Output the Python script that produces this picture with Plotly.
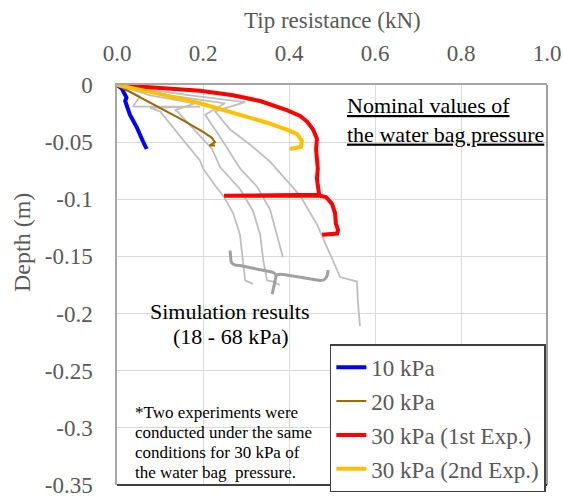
import plotly.graph_objects as go

# ---------------- data ----------------
x_ticks = [0.0, 0.2, 0.4, 0.6, 0.8, 1.0]
x_tick_labels = ["0.0", "0.2", "0.4", "0.6", "0.8", "1.0"]
y_ticks = [0, -0.05, -0.1, -0.15, -0.2, -0.25, -0.3, -0.35]
y_tick_labels = ["0", "-0.05", "-0.1", "-0.15", "-0.2", "-0.25", "-0.3", "-0.35"]

# 10 kPa
kpa10_x = [0, 0.011, 0.022, 0.019, 0.030, 0.046, 0.060, 0.069]
kpa10_y = [0, -0.003, -0.011, -0.014, -0.026, -0.037, -0.049, -0.056]

# 20 kPa
kpa20_x = [0, 0.050, 0.100, 0.150, 0.200, 0.220, 0.228, 0.215, 0.228]
kpa20_y = [0, -0.010, -0.020, -0.030, -0.041, -0.046, -0.050, -0.053, -0.053]

# 30 kPa (1st Exp.)
kpa30a_x = [0, 0.077, 0.193, 0.270, 0.333, 0.395, 0.426, 0.442, 0.456, 0.465,
            0.463, 0.465, 0.467, 0.465, 0.467, 0.470, 0.249, 0.472, 0.486, 0.500,
            0.507, 0.509, 0.514, 0.512, 0.477]
kpa30a_y = [0, -0.002, -0.005, -0.009, -0.014, -0.022, -0.027, -0.032, -0.039, -0.047,
            -0.056, -0.065, -0.073, -0.082, -0.091, -0.096, -0.097, -0.097, -0.098, -0.104,
            -0.112, -0.121, -0.127, -0.130, -0.131]

# 30 kPa (2nd Exp.)
kpa30b_x = [0, 0.077, 0.193, 0.270, 0.309, 0.349, 0.395, 0.419, 0.430, 0.428, 0.402]
kpa30b_y = [0, -0.006, -0.016, -0.024, -0.028, -0.033, -0.039, -0.043, -0.049, -0.054, -0.056]

# Simulation results (18 - 68 kPa)
sim1_x = [0, 0.053, 0.037, 0.193, 0.077, 0.100, 0.147, 0.193, 0.200, 0.228, 0.247, 0.270, 0.286, 0.293, 0.298, 0.316]
sim1_y = [0, -0.010, -0.019, -0.019, -0.020, -0.023, -0.045, -0.066, -0.073, -0.088, -0.097, -0.112, -0.131, -0.153, -0.171, -0.174]
sim2_x = [0, 0.077, 0.181, 0.135, 0.140, 0.193, 0.221, 0.240, 0.286, 0.316, 0.333, 0.340, 0.349, 0.363, 0.379]
sim2_y = [0, -0.009, -0.016, -0.022, -0.023, -0.045, -0.056, -0.072, -0.091, -0.110, -0.131, -0.153, -0.171, -0.172, -0.175]
sim3_x = [0, 0.123, 0.251, 0.205, 0.228, 0.251, 0.286, 0.326, 0.356, 0.372, 0.386]
sim3_y = [0, -0.009, -0.016, -0.026, -0.039, -0.052, -0.073, -0.089, -0.109, -0.131, -0.151]
sim4_x = [0, 0.170, 0.298, 0.228, 0.263, 0.309, 0.356, 0.391, 0.426, 0.465, 0.495, 0.519, 0.558, 0.560, 0.565]
sim4_y = [0, -0.009, -0.015, -0.023, -0.039, -0.052, -0.067, -0.082, -0.097, -0.122, -0.147, -0.168, -0.172, -0.188, -0.211]
sim_series = [(sim1_x, sim1_y), (sim2_x, sim2_y), (sim3_x, sim3_y), (sim4_x, sim4_y)]

# text lines
sim_label_lines = ["Simulation results", "(18 - 68 kPa)"]
note_lines = ["*Two experiments were", "conducted under the same",
              "conditions for 30 kPa of", "the water bag  pressure."]

# brace (decoration) key points in data units
brace_path = ("M 0.263,-0.145 L 0.265,-0.154 Q 0.267,-0.158 0.286,-0.158 L 0.351,-0.163 "
              "Q 0.370,-0.164 0.370,-0.167 M 0.370,-0.167 L 0.361,-0.183 "
              "M 0.370,-0.167 Q 0.372,-0.165 0.391,-0.166 L 0.472,-0.171 "
              "Q 0.489,-0.172 0.491,-0.162")

FONT = "'Liberation Serif', 'Times New Roman', serif"
GREY_TXT = "#595959"

fig = go.Figure()

for sx, sy in sim_series:
    fig.add_trace(go.Scatter(x=sx, y=sy, mode="lines", showlegend=False,
                             line=dict(color="#bfbfbf", width=1.8), hoverinfo="skip"))

legend_traces = [
    (kpa10_x, kpa10_y, "10 kPa", "#0000ff", 4),
    (kpa20_x, kpa20_y, "20 kPa", "#9c6a00", 2),
    (kpa30a_x, kpa30a_y, "30 kPa (1st Exp.)", "#ff0000", 4),
    (kpa30b_x, kpa30b_y, "30 kPa (2nd Exp.)", "#ffc000", 4),
]
for i, (lx, ly, nm, col, w) in enumerate(legend_traces):
    fig.add_trace(go.Scatter(x=lx, y=ly, mode="lines", name=nm, legendgroup=f"g{i}",
                             line=dict(color=col, width=w)))

fig.update_layout(
    template="none",
    width=563, height=499,
    margin=dict(l=117, r=16, t=85, b=14, autoexpand=False),
    paper_bgcolor="white", plot_bgcolor="white",
    font=dict(family=FONT, size=23, color=GREY_TXT),
    xaxis=dict(side="top", range=[0, 1], tickvals=x_ticks, ticktext=x_tick_labels,
               showgrid=True, gridcolor="#d9d9d9", gridwidth=1, zeroline=False,
               showline=True, linecolor="#a6a6a6", linewidth=1.5, mirror=False,
               ticks="", ticklabelstandoff=13, automargin=False, ticklabeloverflow="allow",
               tickfont=dict(family=FONT, size=23, color=GREY_TXT)),
    yaxis=dict(range=[-0.35, 0], tickvals=y_ticks, ticktext=y_tick_labels,
               showgrid=True, gridcolor="#d9d9d9", gridwidth=1, zeroline=False,
               showline=True, linecolor="#a6a6a6", linewidth=1.5, mirror=False,
               ticks="", ticklabelstandoff=18, automargin=False, ticklabeloverflow="allow",
               tickfont=dict(family=FONT, size=23, color=GREY_TXT)),
    legend=dict(x=0.495, y=0.352, xanchor="left", yanchor="top",
                bgcolor="white", bordercolor="#404040", borderwidth=1.5,
                font=dict(family=FONT, size=23, color=GREY_TXT),
                itemwidth=30, tracegroupgap=1),
    showlegend=True,
)

# plot frame: right (dark grey) and bottom (black)
fig.add_shape(type="line", xref="paper", yref="paper", x0=1, x1=1, y0=0, y1=1,
              line=dict(color="#7f7f7f", width=1.5))
fig.add_shape(type="line", xref="paper", yref="paper", x0=0, x1=1, y0=0, y1=0,
              line=dict(color="#000000", width=1.5))
# white backgrounds behind the text blocks (cover gridlines)
fig.add_shape(type="rect", xref="paper", yref="paper", x0=0.0465, x1=0.479, y0=0.3375, y1=0.4825,
              layer="between", line=dict(width=0), fillcolor="white")
fig.add_shape(type="rect", xref="paper", yref="paper", x0=0.014, x1=0.463, y0=0.01, y1=0.23,
              layer="between", line=dict(width=0), fillcolor="white")
fig.add_shape(type="path", path=brace_path, xref="x", yref="y",
              line=dict(color="#a0a0a0", width=3))

annotations = [
    dict(text="Tip resistance (kN)", xref="paper", yref="paper", x=0.5, y=1.0,
         yshift=65, xanchor="center", yanchor="middle", showarrow=False,
         font=dict(family=FONT, size=23, color=GREY_TXT)),
    dict(text="Depth (m)", xref="paper", yref="paper", x=0, xshift=-95, y=0.605,
         xanchor="center", yanchor="middle", textangle=-90, showarrow=False,
         font=dict(family=FONT, size=24, color=GREY_TXT)),
    dict(text="<u>Nominal values of</u><br><u>the water bag pressure</u>",
         xref="paper", yref="paper", x=0.53, y=0.985, xanchor="left", yanchor="top",
         align="left", showarrow=False,
         font=dict(family=FONT, size=22, color="#000000")),
]
sim_y = [0.435, 0.3725]
for t, yy in zip(sim_label_lines, sim_y):
    annotations.append(dict(text=t, xref="paper", yref="paper", x=0.2628, y=yy,
                            xanchor="center", yanchor="middle", showarrow=False,
                            font=dict(family=FONT, size=22, color="#000000")))
note_y = [0.1825, 0.1325, 0.0825, 0.0325]
for t, yy in zip(note_lines, note_y):
    annotations.append(dict(text=t, xref="paper", yref="paper", x=0.0372, y=yy,
                            xanchor="left", yanchor="middle", showarrow=False,
                            font=dict(family=FONT, size=17, color="#000000")))
fig.update_layout(annotations=annotations)

fig.write_html("out.html", config={"displayModeBar": False},
               post_script="document.body.style.margin='0';document.body.style.padding='0';")
